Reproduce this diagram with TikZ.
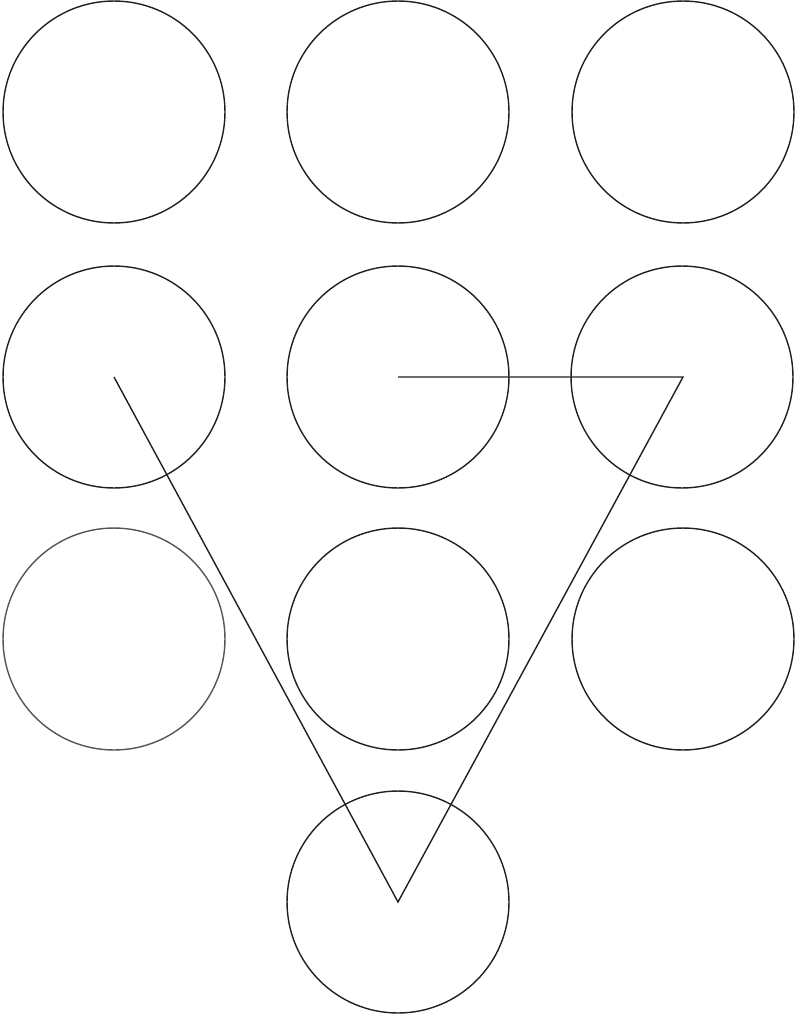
\documentclass[tikz,border=0pt]{standalone}
\usepackage{tikz}
\usetikzlibrary{positioning}
\usepackage{xcolor}

\definecolor{tratto}{HTML}{231F20}
\definecolor{tenue}{HTML}{555555}

\begin{document}
\begin{tikzpicture}[
  x=0.02cm, y=-0.02cm,
  cerchio/.style={draw=tratto, circle, line width=0.8pt, minimum size=4.44cm,
                  inner sep=0pt},
  spento/.style={cerchio, draw=tenue},
  percorso/.style={draw=tratto, line width=0.8pt, line join=miter}
]

% cornice fissata a mano (796 x 1017)
\useasboundingbox (0,0) rectangle (796,1017);

% ---- griglia dei cerchi ---------------------------------------------
\node[cerchio] (c11) at (114,112) {};
\node[cerchio] (c12) at (398,112) {};
\node[cerchio] (c13) at (683,112) {};

\node[cerchio] (c21) at (114,377) {};
\node[cerchio] (c22) at (398,377) {};
\node[cerchio] (c23) at (682,377) {};

\node[spento]  (c31) at (114,639) {};
\node[cerchio] (c32) at (398,639) {};
\node[cerchio] (c33) at (683,639) {};

\node[cerchio] (c42) at (398,902) {};

% ---- tracciato --------------------------------------------------------
\coordinate (p23) at (683,377);
\draw[percorso] (c22.center) -- (p23) -- (c42.center) -- (c21.center);

\end{tikzpicture}
\end{document}
